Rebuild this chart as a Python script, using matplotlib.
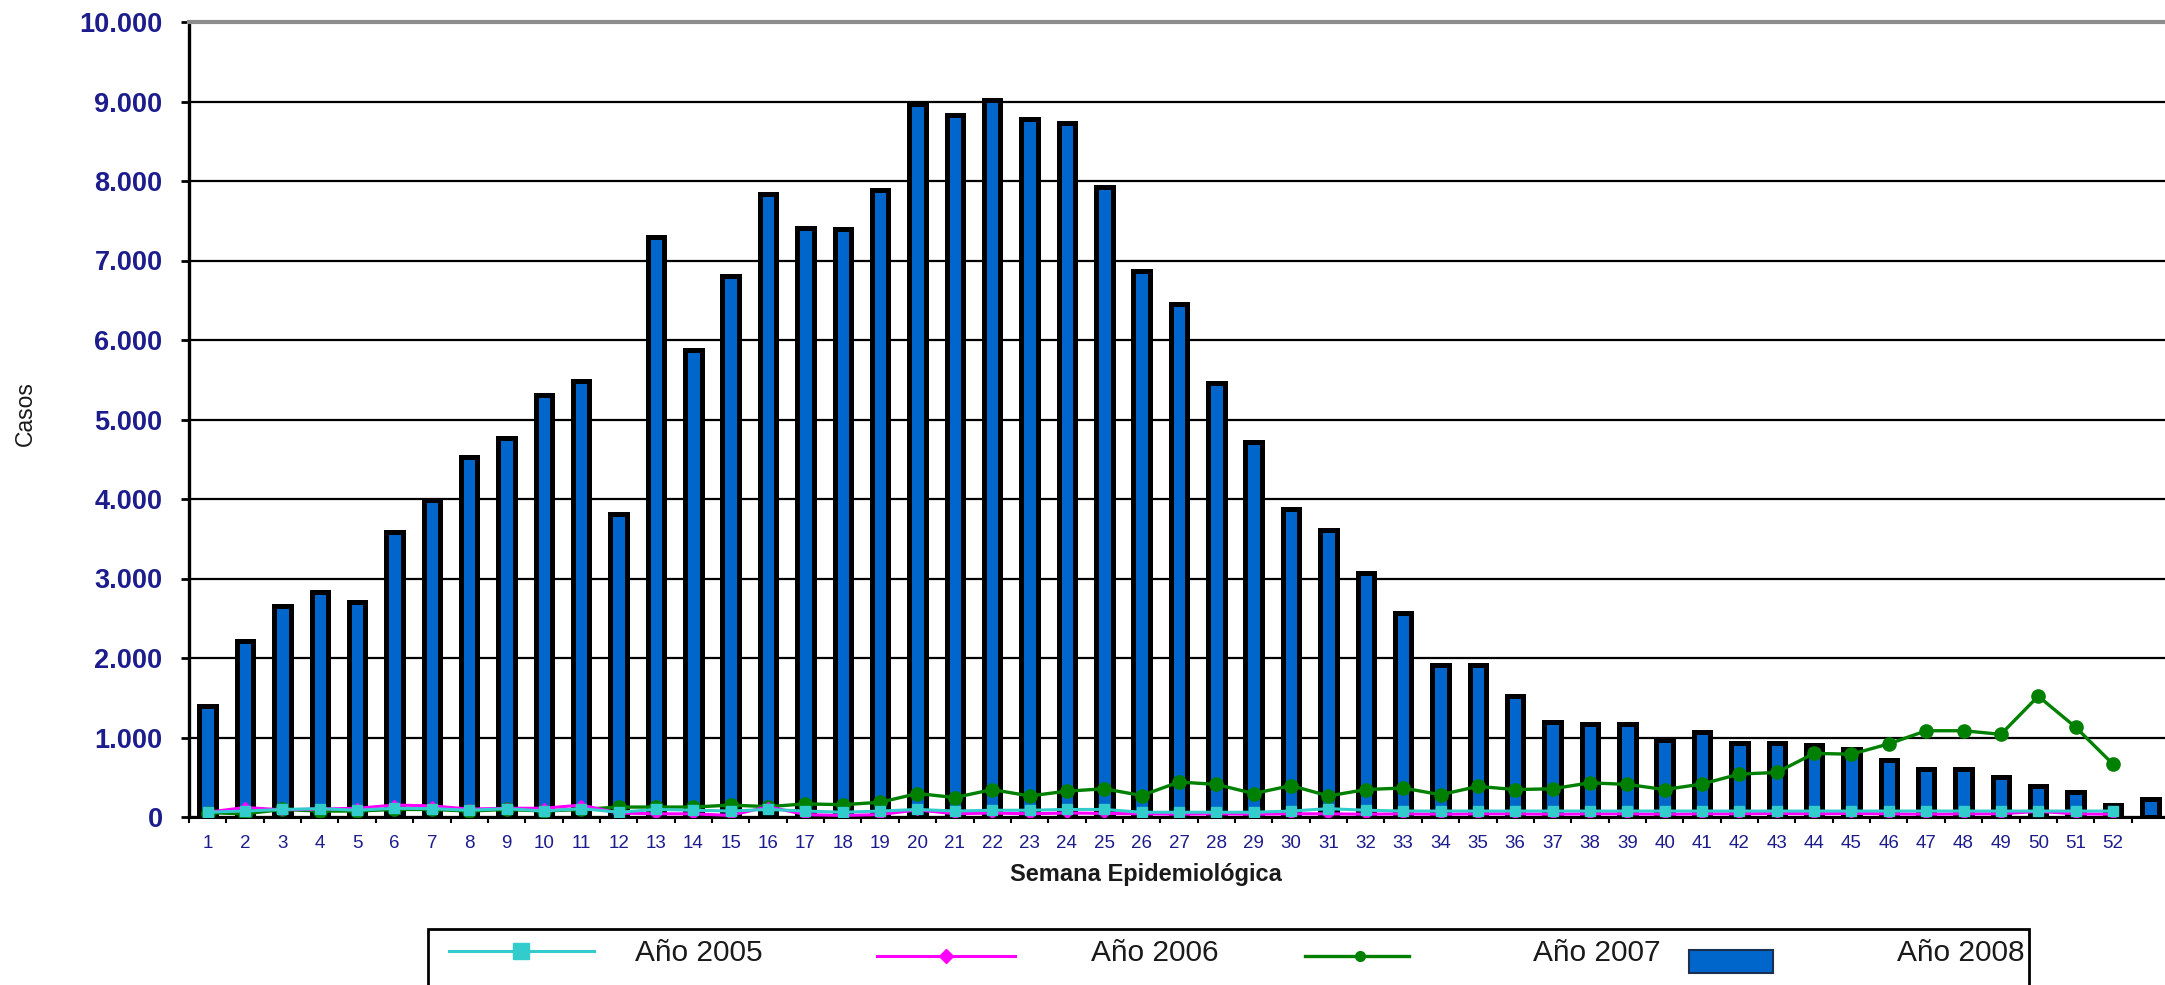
import matplotlib
matplotlib.use('Agg')
import matplotlib.pyplot as plt
from matplotlib.lines import Line2D
from matplotlib.patches import Rectangle
import numpy as np

plt.rcParams['font.family'] = ['Liberation Sans', 'DejaVu Sans']

# ---------------- data ----------------
weeks = list(range(1, 54))
week_labels = [str(i) for i in range(1, 53)] + ['']

casos_2008 = [1400, 2220, 2650, 2830, 2700, 3590, 3990, 4530, 4770, 5310,
              5480, 3810, 7290, 5870, 6800, 7840, 7410, 7390, 7890, 8970,
              8830, 9020, 8780, 8730, 7920, 6870, 6450, 5460, 4720, 3870,
              3610, 3070, 2570, 1910, 1910, 1520, 1200, 1170, 1175, 970,
              1065, 930, 930, 905, 855, 715, 610, 610, 500, 395,
              310, 150, 225]

casos_2007 = [55, 40, 95, 75, 75, 95, 95, 75, 95, 75,
              95, 125, 125, 125, 150, 130, 165, 155, 185, 295,
              245, 345, 265, 325, 355, 270, 440, 410, 295, 395,
              265, 345, 365, 280, 385, 345, 355, 430, 410, 345,
              415, 540, 560, 800, 790, 920, 1085, 1085, 1040, 1520,
              1130, 665]

casos_2006 = [60, 120, 90, 100, 110, 150, 140, 100, 110, 110,
              150, 50, 40, 40, 20, 130, 30, 20, 30, 90,
              40, 50, 40, 50, 45, 40, 35, 40, 35, 40,
              40, 35, 40, 35, 40, 40, 35, 40, 40, 35,
              40, 40, 45, 40, 45, 40, 35, 40, 40, 70,
              40, 35]

casos_2005 = [60, 75, 95, 105, 85, 110, 105, 85, 105, 75,
              105, 60, 95, 85, 75, 95, 75, 60, 75, 95,
              75, 85, 85, 95, 95, 60, 60, 60, 60, 75,
              105, 85, 75, 75, 75, 75, 75, 75, 75, 75,
              75, 75, 75, 75, 75, 75, 75, 75, 75, 75,
              75, 75]

y_ticks = [0, 1000, 2000, 3000, 4000, 5000, 6000, 7000, 8000, 9000, 10000]
y_tick_labels = ['0', '1.000', '2.000', '3.000', '4.000', '5.000',
                 '6.000', '7.000', '8.000', '9.000', '10.000']
series_labels = ['Año 2005', 'Año 2006', 'Año 2007', 'Año 2008']

# ---------------- figure ----------------
W, H = 2165, 985
fig = plt.figure(figsize=(W / 100, H / 100), dpi=100)
fig.patch.set_facecolor('white')

ax = fig.add_axes([189 / W, 168 / H, 1980 / W, 795 / H])

navy = '#1c1c8c'
blue = '#0066cc'

ax.bar(weeks, casos_2008, width=0.44, color=blue, edgecolor='black',
       linewidth=3.6, zorder=2)

w52 = weeks[:52]
ax.plot(w52, casos_2007, color='#008000', lw=2.4, marker='o', ms=9.5,
        zorder=3)
ax.plot(w52, casos_2006, color='#ff00ff', lw=2.2, marker='D', ms=5,
        zorder=4)
ax.plot(w52, casos_2005, color='#33cccc', lw=2.2, marker='s', ms=7,
        zorder=5)

ax.set_xlim(0.5, 53.5)
ax.set_ylim(0, 10000)

ax.set_yticks(y_ticks, y_tick_labels)
ax.tick_params(axis='y', labelsize=19.5, labelcolor=navy, length=6,
               width=2, pad=13, color='black')
for t in ax.get_yticklabels():
    t.set_fontweight('bold')

ax.set_xticks(weeks, week_labels)
ax.set_xticks(np.arange(0.5, 54, 1), minor=True)
ax.tick_params(axis='x', which='major', length=0, labelsize=13.5,
               labelcolor=navy, pad=13)
ax.tick_params(axis='x', which='minor', length=4, width=1.5, color='black')

ax.set_axisbelow(True)
ax.yaxis.grid(True, color='black', lw=1.6)
ax.xaxis.grid(False)

ax.spines['left'].set_linewidth(2.4)
ax.spines['left'].set_color('black')
ax.spines['bottom'].set_linewidth(2.2)
ax.spines['bottom'].set_color('black')
ax.spines['top'].set_linewidth(3)
ax.spines['top'].set_color('#8c8c8c')
ax.spines['right'].set_visible(False)

fig.text(1146 / W, 1 - 874 / H, 'Semana Epidemiológica', ha='center',
         va='center', fontsize=17, fontweight='bold', color='#1a1a1a')
fig.text(25 / W, 1 - 414 / H, 'Casos', ha='center', va='center',
         rotation=90, fontsize=16.5, color='#1a1a1a')

# ---------------- legend (manual) ----------------
def fx(x):
    return x / W

def fy(y):
    return 1 - y / H

tf = fig.transFigure
fig.add_artist(Rectangle((fx(428), fy(1000)), fx(2029) - fx(428),
                         fy(929) - fy(1000), transform=tf, fill=False,
                         edgecolor='black', lw=2))

fig.add_artist(Line2D([fx(449), fx(594)], [fy(951), fy(951)], transform=tf,
                      color='#33cccc', lw=2.2))
fig.add_artist(Line2D([fx(521)], [fy(951)], transform=tf, color='#33cccc',
                      marker='s', ms=12))
fig.text(fx(635), fy(953), series_labels[0], ha='left', va='center',
         fontsize=21.5, color='#1a1a1a')

fig.add_artist(Line2D([fx(877), fx(1015)], [fy(956), fy(956)], transform=tf,
                      color='#ff00ff', lw=2.2))
fig.add_artist(Line2D([fx(946)], [fy(956)], transform=tf, color='#ff00ff',
                      marker='D', ms=7))
fig.text(fx(1091), fy(953), series_labels[1], ha='left', va='center',
         fontsize=21.5, color='#1a1a1a')

fig.add_artist(Line2D([fx(1305), fx(1409)], [fy(956), fy(956)], transform=tf,
                      color='#008000', lw=2.4))
fig.add_artist(Line2D([fx(1360)], [fy(956)], transform=tf, color='#008000',
                      marker='o', ms=7))
fig.text(fx(1533), fy(953), series_labels[2], ha='left', va='center',
         fontsize=21.5, color='#1a1a1a')

fig.add_artist(Rectangle((fx(1689), fy(973)), fx(1773) - fx(1689),
                         fy(950) - fy(973), transform=tf, facecolor=blue,
                         edgecolor='#1a3050', lw=1.5))
fig.text(fx(1897), fy(953), series_labels[3], ha='left', va='center',
         fontsize=21.5, color='#1a1a1a')

fig.savefig('out.png', dpi=100, facecolor='white')
